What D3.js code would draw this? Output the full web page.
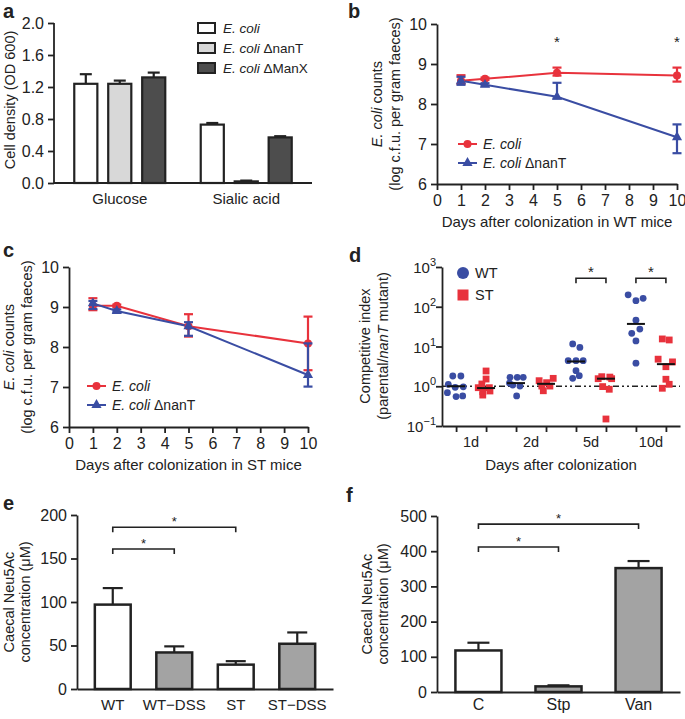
<!DOCTYPE html>
<html><head><meta charset="utf-8">
<script src="https://cdn.jsdelivr.net/npm/d3@7"></script>
<style>
body{margin:0;background:#fff;}
svg text{font-family:"Liberation Sans",Arial,Helvetica,sans-serif;fill:#222;}
</style></head>
<body><svg id="c" width="685" height="719"></svg>
<script>
// ---------- DATA ----------
// panel a
const aCategories = ["Glucose", "Sialic acid"];
const aSeries = ["E. coli", "E. coli ΔnanT", "E. coli ΔManX"];
const aMeans = [[1.24, 1.24, 1.32], [0.73, 0.02, 0.57]];
const aErrors = [[0.12, 0.04, 0.06], [0.02, 0.01, 0.015]];
const aTicks = [0, 0.4, 0.8, 1.2, 1.6, 2.0];
// panel b (WT mice)
const bDays = [1, 2, 5, 10];
const bEcoli = [8.58, 8.63, 8.78, 8.71];
const bEcoliHi = [8.72, 8.66, 8.91, 8.91];
const bEcoliLo = [8.5, 8.6, 8.71, 8.56];
const bNanT = [8.58, 8.48, 8.18, 7.17];
const bNanTHi = [8.68, 8.52, 8.53, 7.49];
const bNanTLo = [8.48, 8.45, 8.14, 6.77];
const bStars = [5, 10];
// panel c (ST mice)
const cDays = [1, 2, 5, 10];
const cEcoli = [9.03, 9.03, 8.52, 8.09];
const cEcoliHi = [9.22, 9.06, 8.82, 8.76];
const cEcoliLo = [8.92, 9.0, 8.26, 7.42];
const cNanT = [9.09, 8.9, 8.52, 7.3];
const cNanTHi = [9.15, 8.94, 8.62, 8.09];
const cNanTLo = [8.95, 8.87, 8.28, 7.01];
const daysTicks = [0, 1, 2, 3, 4, 5, 6, 7, 8, 9, 10];
const countTicks = [6, 7, 8, 9, 10];
// panel d (competitive index): per group, [value, jitter in slot units]
const dGroups = ["1d", "2d", "5d", "10d"];
const dWT = [
  [[1.81,-0.11],[1.81,0.16],[1.12,-0.26],[0.94,-0.03],[0.97,0.24],[0.69,-0.29],[0.55,0],[0.57,0.22]],
  [[1.68,-0.2],[1.68,0.04],[1.68,0.24],[1.2,-0.22],[1.07,-0.11],[1.01,0.13],[0.57,0.02]],
  [[11.6,-0.11],[9.5,0.13],[4.4,-0.26],[4.4,0],[4.4,0.24],[2.46,0],[1.58,-0.11],[1.85,0.11]],
  [[200,-0.26],[142,0],[163,0.24],[46,0],[27.5,0.13],[21.4,-0.14],[13.8,0],[3.8,0]]
];
const dST = [
  [[2.42,0],[1.52,0],[1.14,-0.14],[0.92,-0.26],[0.92,0.11],[0.73,-0.11],[0.76,0.13],[0.6,-0.11]],
  [[1.38,-0.23],[1.58,0.24],[1.23,0.02],[1.01,-0.14],[1.01,0.13],[0.77,-0.09]],
  [[1.74,-0.14],[1.7,0.13],[1.55,-0.26],[1.55,0.19],[0.98,-0.11],[0.84,0.11],[0.15,0]],
  [[15.5,-0.12],[14.6,0.11],[4.8,-0.26],[4.1,0.22],[3.1,0],[1.5,0],[1.12,0.11],[0.89,-0.12]]
];
const dWTMedian = [1.0, 1.2, 4.2, 37];
const dSTMedian = [0.9, 1.15, 1.55, 3.6];
const dExponents = [-1, 0, 1, 2, 3];
const dStarGroups = [2, 3];
// panel e
const eCategories = ["WT", "WT\u2212DSS", "ST", "ST\u2212DSS"];
const eMeans = [97, 42, 28, 52];
const eErrors = [19, 7, 4, 13];
const eDSS = [false, true, false, true];
const eTicks = [0, 50, 100, 150, 200];
const eBrackets = [[0, 2, 186], [0, 1, 161]];
// panel f
const fCategories = ["C", "Stp", "Van"];
const fMeans = [118, 16, 352];
const fErrors = [22, 3, 20];
const fGray = [false, true, true];
const fTicks = [0, 100, 200, 300, 400, 500];
const fBrackets = [[0, 2, 477], [0, 1, 412]];

// ---------- STYLE ----------
const RED = "#e8323c", BLUE = "#3a4da3", INK = "#222";
const svg = d3.select("#c");

function axisStyle(g, fs) {
  g.selectAll("path.domain").attr("stroke", INK).attr("stroke-width", 1.8);
  g.selectAll(".tick line").attr("stroke", INK).attr("stroke-width", 1.8);
  g.selectAll(".tick text").attr("fill", INK).style("font-size", fs || "16px");
}
function panelLabel(t, x, y) {
  svg.append("text").attr("x", x).attr("y", y).text(t)
    .style("font-size", "20px").style("font-weight", "bold").attr("fill", "#111");
}
function yTitle(lines, x, y, gap) {
  const t = svg.append("text").attr("transform", `translate(${x},${y}) rotate(-90)`)
    .attr("text-anchor", "middle").style("font-size", "14.5px");
  lines.forEach((parts, i) => {
    parts.forEach((p, j) => {
      const ts = t.append("tspan").text(p[0]);
      if (p[1]) ts.style("font-style", "italic");
      if (j === 0) ts.attr("x", 0).attr("dy", i === 0 ? 0 : gap);
    });
  });
}

// ---------- PANEL A ----------
{
  const x = d3.scaleBand().domain(aCategories).range([54, 312]).paddingInner(0.1).paddingOuter(0.07);
  const xs = d3.scaleBand().domain(aSeries).range([-45.5, 45.5]).paddingInner(0.32);
  const y = d3.scaleLinear().domain([0, 2]).range([183, 23]);
  const fills = ["#ffffff", "#d8d8d8", "#4d4d4d"];
  const g = svg.append("g");
  aCategories.forEach((c, ci) => {
    aSeries.forEach((s, si) => {
      const cx = x(c) + x.bandwidth() / 2 + xs(s);
      const w = xs.bandwidth();
      const m = aMeans[ci][si], e = aErrors[ci][si];
      g.append("line").attr("x1", cx + w / 2).attr("x2", cx + w / 2)
        .attr("y1", y(m)).attr("y2", y(m + e)).attr("stroke", INK).attr("stroke-width", 2.2);
      g.append("line").attr("x1", cx + w / 2 - 6).attr("x2", cx + w / 2 + 6)
        .attr("y1", y(m + e)).attr("y2", y(m + e)).attr("stroke", INK).attr("stroke-width", 2.2);
      g.append("rect").attr("x", cx).attr("width", w).attr("y", y(m)).attr("height", Math.max(y(0) - y(m), 1.5))
        .attr("fill", fills[si]).attr("stroke", INK).attr("stroke-width", 2.2);
    });
  });
  const ya = svg.append("g").attr("transform", "translate(54,0)")
    .call(d3.axisLeft(y).tickValues(aTicks).tickFormat(d3.format(".1f")).tickSize(6).tickPadding(4));
  axisStyle(ya);
  ya.select("path.domain").attr("d", `M0,${y(2)}V${y(0)}`);
  const xa = svg.append("g").attr("transform", `translate(0,${y(0)})`)
    .call(d3.axisBottom(x).tickSize(0).tickPadding(10));
  axisStyle(xa, "15px");
  xa.select("path.domain").attr("d", "M54,0H312");
  // legend
  aSeries.forEach((s, i) => {
    const ly = 28 + i * 20;
    svg.append("rect").attr("x", 198).attr("y", ly - 5).attr("width", 17).attr("height", 10)
      .attr("fill", fills[i]).attr("stroke", INK).attr("stroke-width", 2);
    const t = svg.append("text").attr("x", 223).attr("y", ly + 5).style("font-size", "13.5px");
    t.append("tspan").text("E. coli").style("font-style", "italic");
    if (s.length > 7) t.append("tspan").text(s.slice(7));
  });
  yTitle([[["Cell density (OD 600)"]]], 15, 100, 0);
  panelLabel("a", 3, 18);
}

// ---------- LINE PANELS (B, C) ----------
function linePanel(opt) {
  const x = d3.scaleLinear().domain([0, 10]).range([opt.x0, opt.x1]);
  const y = d3.scaleLinear().domain([6, 10]).range([opt.y0, opt.y1]);
  const xa = svg.append("g").attr("transform", `translate(0,${opt.y0})`)
    .call(d3.axisBottom(x).tickValues(daysTicks).tickFormat(d3.format("d")).tickSize(6).tickPadding(5).tickSizeOuter(0));
  axisStyle(xa);
  const ya = svg.append("g").attr("transform", `translate(${opt.x0},0)`)
    .call(d3.axisLeft(y).tickValues(countTicks).tickFormat(d3.format("d")).tickSize(6).tickPadding(4).tickSizeOuter(0));
  axisStyle(ya);
  const series = [
    {v: opt.ecoli, hi: opt.ecoliHi, lo: opt.ecoliLo, c: RED, sym: d3.symbolCircle},
    {v: opt.nanT, hi: opt.nanTHi, lo: opt.nanTLo, c: BLUE, sym: d3.symbolTriangle}
  ];
  series.forEach(s => {
    svg.append("path").datum(opt.days.map((d, i) => [d, s.v[i]]))
      .attr("d", d3.line().x(d => x(d[0])).y(d => y(d[1])))
      .attr("fill", "none").attr("stroke", s.c).attr("stroke-width", 2);
  });
  series.forEach(s => {
    opt.days.forEach((d, i) => {
      const px = x(d);
      svg.append("line").attr("x1", px).attr("x2", px).attr("y1", y(s.hi[i])).attr("y2", y(s.lo[i]))
        .attr("stroke", s.c).attr("stroke-width", 2.2);
      [s.hi[i], s.lo[i]].forEach(v => svg.append("line").attr("x1", px - 4.5).attr("x2", px + 4.5)
        .attr("y1", y(v)).attr("y2", y(v)).attr("stroke", s.c).attr("stroke-width", 2.2));
      svg.append("path").attr("d", d3.symbol().type(s.sym).size(s.sym === d3.symbolCircle ? 50 : 45)())
        .attr("transform", `translate(${px},${y(s.v[i])})`).attr("fill", s.c);
    });
  });
  // legend
  series.forEach((s, i) => {
    const ly = opt.ly + i * 19;
    svg.append("line").attr("x1", opt.lx).attr("x2", opt.lx + 19).attr("y1", ly).attr("y2", ly)
      .attr("stroke", s.c).attr("stroke-width", 2);
    svg.append("path").attr("d", d3.symbol().type(s.sym).size(s.sym === d3.symbolCircle ? 50 : 45)())
      .attr("transform", `translate(${opt.lx + 9.5},${ly})`).attr("fill", s.c);
    const t = svg.append("text").attr("x", opt.lx + 25).attr("y", ly + 5).style("font-size", "14px");
    t.append("tspan").text("E. coli").style("font-style", "italic");
    if (i === 1) t.append("tspan").text(" ΔnanT");
  });
  (opt.stars || []).forEach(d => svg.append("text").attr("x", x(d)).attr("y", y(9.42))
    .attr("text-anchor", "middle").style("font-size", "15px").text("*"));
  svg.append("text").attr("x", (opt.x0 + opt.x1) / 2).attr("y", opt.y0 + 43).attr("text-anchor", "middle")
    .style("font-size", "15px").text(opt.title);
  yTitle([[["E. coli", true], [" counts"]], [["(log c.f.u. per gram faeces)"]]], opt.x0 - 55, (opt.y0 + opt.y1) / 2, 18);
}
linePanel({x0: 437, x1: 677, y0: 184, y1: 24, days: bDays, ecoli: bEcoli, ecoliHi: bEcoliHi, ecoliLo: bEcoliLo,
  nanT: bNanT, nanTHi: bNanTHi, nanTLo: bNanTLo, lx: 458, ly: 144, stars: bStars,
  title: "Days after colonization in WT mice"});
panelLabel("b", 348, 18);
linePanel({x0: 69, x1: 308, y0: 427, y1: 267, days: cDays, ecoli: cEcoli, ecoliHi: cEcoliHi, ecoliLo: cEcoliLo,
  nanT: cNanT, nanTHi: cNanTHi, nanTLo: cNanTLo, lx: 87, ly: 386,
  title: "Days after colonization in ST mice"});
panelLabel("c", 3, 257);

// ---------- PANEL D ----------
{
  const x = d3.scaleLinear().domain([0.53, 8.47]).range([442, 680]);
  const y = d3.scaleLog().domain([0.1, 1000]).range([426, 267]);
  const slots = d3.range(1, 9);
  const xa = svg.append("g").attr("transform", "translate(0,426)")
    .call(d3.axisBottom(x).tickValues(slots).tickSize(6).tickFormat("").tickSizeOuter(0));
  axisStyle(xa);
  dGroups.forEach((g, i) => svg.append("text").attr("x", x(2 * i + 1.5)).attr("y", 447)
    .attr("text-anchor", "middle").style("font-size", "14.5px").text(g));
  const ya = svg.append("g").attr("transform", "translate(442,0)")
    .call(d3.axisLeft(y).tickValues(dExponents.map(e => Math.pow(10, e))).tickSize(6).tickFormat("").tickSizeOuter(0));
  axisStyle(ya);
  dExponents.forEach(e => {
    const t = svg.append("text").attr("x", 436).attr("y", y(Math.pow(10, e)) + 6)
      .attr("text-anchor", "end").style("font-size", "15px");
    t.append("tspan").text("10");
    t.append("tspan").text(e < 0 ? "\u2212" + (-e) : e).attr("dy", -7).style("font-size", "11px");
  });
  svg.append("line").attr("x1", 442).attr("x2", 680).attr("y1", y(1)).attr("y2", y(1))
    .attr("stroke", INK).attr("stroke-width", 1.6).attr("stroke-dasharray", "6,3,2,3,2,3");
  dGroups.forEach((g, gi) => {
    dWT[gi].forEach(p => svg.append("circle").attr("cx", x(2 * gi + 1 + p[1])).attr("cy", y(p[0]))
      .attr("r", 3.4).attr("fill", BLUE));
    dST[gi].forEach(p => svg.append("rect").attr("x", x(2 * gi + 2 + p[1]) - 3.4).attr("y", y(p[0]) - 3.4)
      .attr("width", 6.8).attr("height", 6.8).attr("fill", RED));
    [[dWTMedian[gi], 2 * gi + 1], [dSTMedian[gi], 2 * gi + 2]].forEach(m =>
      svg.append("line").attr("x1", x(m[1] - 0.3)).attr("x2", x(m[1] + 0.3)).attr("y1", y(m[0])).attr("y2", y(m[0]))
        .attr("stroke", "#111").attr("stroke-width", 2));
  });
  dStarGroups.forEach(gi => {
    const x1 = x(2 * gi + 1), x2 = x(2 * gi + 2), yy = y(520);
    svg.append("path").attr("d", `M${x1},${yy + 5}V${yy}H${x2}V${yy + 5}`).attr("fill", "none")
      .attr("stroke", INK).attr("stroke-width", 1.6);
    svg.append("text").attr("x", (x1 + x2) / 2).attr("y", yy - 1).attr("text-anchor", "middle")
      .style("font-size", "15px").text("*");
  });
  // legend
  svg.append("circle").attr("cx", 463).attr("cy", 273).attr("r", 6).attr("fill", BLUE);
  svg.append("text").attr("x", 475).attr("y", 278).style("font-size", "14.5px").text("WT");
  svg.append("rect").attr("x", 457.5).attr("y", 289.5).attr("width", 11).attr("height", 11).attr("fill", RED);
  svg.append("text").attr("x", 475).attr("y", 300).style("font-size", "14.5px").text("ST");
  svg.append("text").attr("x", 561).attr("y", 470).attr("text-anchor", "middle").style("font-size", "15px")
    .text("Days after colonization");
  yTitle([[["Competitive index"]], [["(parental/"], ["nanT", true], [" mutant)"]]], 370, 346, 18);
  panelLabel("d", 349, 262);
}

// ---------- BAR PANELS (E, F) ----------
function barPanel(opt) {
  const x = d3.scaleBand().domain(opt.cats).range([opt.x0, opt.x1]).paddingInner(opt.pi).paddingOuter(opt.po);
  const y = d3.scaleLinear().domain([0, opt.max]).range([opt.y0, opt.y1]);
  opt.cats.forEach((c, i) => {
    const cx = x(c) + x.bandwidth() / 2, m = opt.means[i], e = opt.errs[i];
    svg.append("line").attr("x1", cx).attr("x2", cx).attr("y1", y(m)).attr("y2", y(m + e))
      .attr("stroke", INK).attr("stroke-width", 2.2);
    svg.append("line").attr("x1", cx - opt.cap).attr("x2", cx + opt.cap).attr("y1", y(m + e)).attr("y2", y(m + e))
      .attr("stroke", INK).attr("stroke-width", 2.2);
    svg.append("rect").attr("x", x(c)).attr("width", x.bandwidth()).attr("y", y(m)).attr("height", y(0) - y(m))
      .attr("fill", opt.gray[i] ? "#a3a3a3" : "#fff").attr("stroke", INK).attr("stroke-width", 2.5);
  });
  const ya = svg.append("g").attr("transform", `translate(${opt.x0},0)`)
    .call(d3.axisLeft(y).tickValues(opt.ticks).tickSize(6).tickPadding(4).tickSizeOuter(0));
  axisStyle(ya);
  const xa = svg.append("g").attr("transform", `translate(0,${opt.y0})`)
    .call(d3.axisBottom(x).tickSize(0).tickPadding(opt.tp).tickSizeOuter(0));
  axisStyle(xa, opt.xfs);
  opt.brackets.forEach(b => {
    const x1 = x(opt.cats[b[0]]) + x.bandwidth() / 2, x2 = x(opt.cats[b[1]]) + x.bandwidth() / 2, yy = y(b[2]);
    svg.append("path").attr("d", `M${x1},${yy + 5}V${yy}H${x2}V${yy + 5}`).attr("fill", "none")
      .attr("stroke", INK).attr("stroke-width", 1.6);
    svg.append("text").attr("x", (x1 + x2) / 2).attr("y", yy - 1).attr("text-anchor", "middle")
      .style("font-size", "13px").text("*");
  });
  yTitle([[["Caecal Neu5Ac"]], [["concentration (\u03bcM)"]]], opt.tx, (opt.y0 + opt.y1) / 2, 16);
}
barPanel({cats: eCategories, means: eMeans, errs: eErrors, gray: eDSS, ticks: eTicks, max: 200,
  x0: 77, x1: 333, y0: 689, y1: 515, pi: 0.417, po: 0.29, cap: 10, brackets: eBrackets, tx: 14, tp: 10, xfs: "15px"});
panelLabel("e", 3, 510);
barPanel({cats: fCategories, means: fMeans, errs: fErrors, gray: fGray, ticks: fTicks, max: 500,
  x0: 437, x1: 680, y0: 692, y1: 516, pi: 0.425, po: 0.23, cap: 11, brackets: fBrackets, tx: 372, tp: 7, xfs: "16px"});
panelLabel("f", 346, 502);
</script></body></html>
